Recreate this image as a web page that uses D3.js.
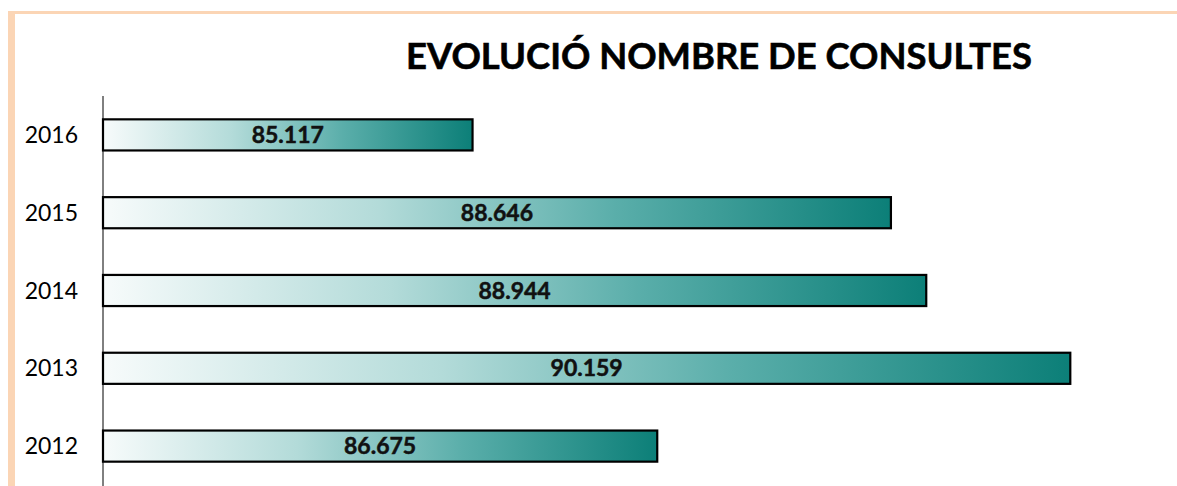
<!DOCTYPE html>
<html>
<head>
<meta charset="utf-8">
<script src="https://cdn.jsdelivr.net/npm/d3@7"></script>
<style>
  body { margin: 0; background: #fff; }
  svg { display: block; }
</style>
</head>
<body>
<svg id="chart" width="1177" height="486"></svg>
<script>
/*
    Chart data
 */
var years = ["2016", "2015", "2014", "2013", "2012"];
var consultes = [85117, 88646, 88944, 90159, 86675];
var valueDomain = [82000, 91000];

var width = 1177;
var height = 486;

var svg = d3.select("#chart");

// frame around the chart (top and left bands)
svg.append("rect")
    .attr("x", 8).attr("y", 11)
    .attr("width", width - 8).attr("height", 3)
    .attr("fill", "#fbd5b5");
svg.append("rect")
    .attr("x", 8).attr("y", 11)
    .attr("width", 7).attr("height", height - 11)
    .attr("fill", "#fbd5b5");

var x = d3.scaleLinear()
    .domain(valueDomain)
    .range([103, 1170]);

var y = d3.scaleBand()
    .domain(years)
    .range([96, 485])
    .paddingInner(0.6)
    .paddingOuter(0.3);

var data = years.map(function(d, i) {
    return {year: d, value: consultes[i]};
});

// gradient for bars, one per bar (objectBoundingBox)
var grad = svg.append("defs").append("linearGradient")
    .attr("id", "barGrad")
    .attr("x1", "0%").attr("x2", "100%")
    .attr("y1", "0%").attr("y2", "0%");
grad.append("stop").attr("offset", "0%").attr("stop-color", "#f7fbfb");
grad.append("stop").attr("offset", "35%").attr("stop-color", "#b3dbd9");
grad.append("stop").attr("offset", "65%").attr("stop-color", "#5aaeaa");
grad.append("stop").attr("offset", "100%").attr("stop-color", "#0c7f78");

// title
svg.append("text")
    .attr("x", 719)
    .attr("y", 69)
    .attr("text-anchor", "middle")
    .style("font-family", "Lato, 'Open Sans', sans-serif")
    .style("font-weight", "bold")
    .style("font-size", "36.4px")
    .attr("fill", "#000")
    .attr("stroke", "#000")
    .attr("stroke-width", 0.6)
    .text("EVOLUCIÓ NOMBRE DE CONSULTES");

var bar = svg.selectAll(".bar")
    .data(data)
    .enter().append("g")
    .attr("class", "bar");

bar.append("rect")
    .attr("x", x(valueDomain[0]))
    .attr("y", function(d) { return y(d.year); })
    .attr("width", function(d) { return x(d.value) - x(valueDomain[0]); })
    .attr("height", y.bandwidth())
    .attr("fill", "url(#barGrad)")
    .attr("stroke", "#000")
    .attr("stroke-width", 2.2);

bar.append("text")
    .attr("x", function(d) { return (x(valueDomain[0]) + x(d.value)) / 2; })
    .attr("y", function(d) { return y(d.year) + y.bandwidth() / 2 + 8; })
    .attr("text-anchor", "middle")
    .style("font-family", "Lato, 'Open Sans', sans-serif")
    .style("font-weight", "bold")
    .style("font-size", "23px")
    .attr("fill", "#111")
    .attr("stroke", "#111")
    .attr("stroke-width", 0.5)
    .text(function(d) { return d3.format(",")(d.value).replace(",", "."); });

// category axis
var yAxis = svg.append("g")
    .attr("transform", "translate(" + x(valueDomain[0]) + ",0)")
    .call(d3.axisLeft(y).tickSize(0).tickPadding(25));

yAxis.select(".domain").attr("d", "M0,96V486").attr("stroke", "#000");
yAxis.selectAll("text")
    .style("font-family", "Lato, 'Open Sans', sans-serif")
    .style("font-size", "23px")
    .attr("fill", "#000")
    .attr("dy", "0.35em");
</script>
</body>
</html>
